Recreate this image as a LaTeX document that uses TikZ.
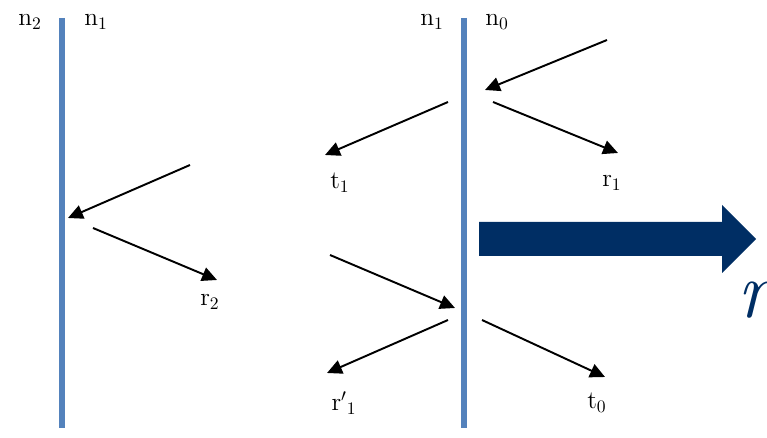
\documentclass[tikz,border=0pt]{standalone}
\usepackage{amsmath}
\usepackage{tikz}
\usetikzlibrary{arrows.meta}
\definecolor{iface}{RGB}{84,130,188}
\definecolor{navy}{RGB}{0,46,100}

\begin{document}
\begin{tikzpicture}[
  x=0.02cm, y=-0.02cm,
  font=\Large,
  >={Triangle[length=8.5pt, width=8pt]},
  ray/.style={->, line width=1.1pt},
  wall/.style={draw=iface, line width=3pt},
  lbl/.style={inner sep=0pt}
]
\useasboundingbox (0,0) rectangle (767,438);
% the two interfaces, media names on either side
\coordinate (lwtop) at (62,18);
\coordinate (lwbot) at (62,428);
\coordinate (mwtop) at (464,18);
\coordinate (mwbot) at (464,428);
\draw[wall] (lwtop) -- (lwbot);
\draw[wall] (mwtop) -- (mwbot);
\node[lbl] (ln2) at (30,22) {$\mathrm{n}_2$};
\node[lbl] (ln1) at (96,22) {$\mathrm{n}_1$};
\node[lbl] (mn1) at (432,22) {$\mathrm{n}_1$};
\node[lbl] (mn0) at (497,22) {$\mathrm{n}_0$};
% left interface: one ray in, r2 back
\coordinate (lin) at (190,165);
\coordinate (lhit) at (68,218);
\coordinate (lout) at (93,228);
\coordinate (lr2) at (217,280);
\draw[ray] (lin) -- (lhit);
\draw[ray] (lout) -- (lr2);
\node[lbl] (r2) at (210,302) {$\mathrm{r}_2$};
% middle interface, ray coming from n0
\coordinate (tin) at (607,40);
\coordinate (thit) at (485,90);
\coordinate (tr1s) at (493,102);
\coordinate (tr1e) at (618,153);
\coordinate (tt1s) at (448,102);
\coordinate (tt1e) at (325,155);
\draw[ray] (tin) -- (thit);
\draw[ray] (tr1s) -- (tr1e);
\draw[ray] (tt1s) -- (tt1e);
\node[lbl] (t1) at (340,183) {$\mathrm{t}_1$};
\node[lbl] (r1) at (612,183) {$\mathrm{r}_1$};
% middle interface, ray coming back from n1
\coordinate (bin) at (330,255);
\coordinate (bhit) at (455,308);
\coordinate (bris) at (448,320);
\coordinate (brie) at (327,373);
\coordinate (bt0s) at (482,320);
\coordinate (bt0e) at (605,377);
\draw[ray] (bin) -- (bhit);
\draw[ray] (bris) -- (brie);
\draw[ray] (bt0s) -- (bt0e);
\node[lbl] (rp1) at (344,403) {$\mathrm{r}'{}_1$};
\node[lbl] (t0) at (597,403) {$\mathrm{t}_0$};
% big arrow out to the right, its label runs off the edge
\fill[navy] (479,222) -- (722,222) -- (722,205) -- (756,239)
  -- (722,273) -- (722,256) -- (479,256) -- cycle;
\node[lbl, text=navy, anchor=base west, font=\fontsize{46}{50}\selectfont\itshape]
  (rlbl) at (737,318) {r};
\end{tikzpicture}
\end{document}
